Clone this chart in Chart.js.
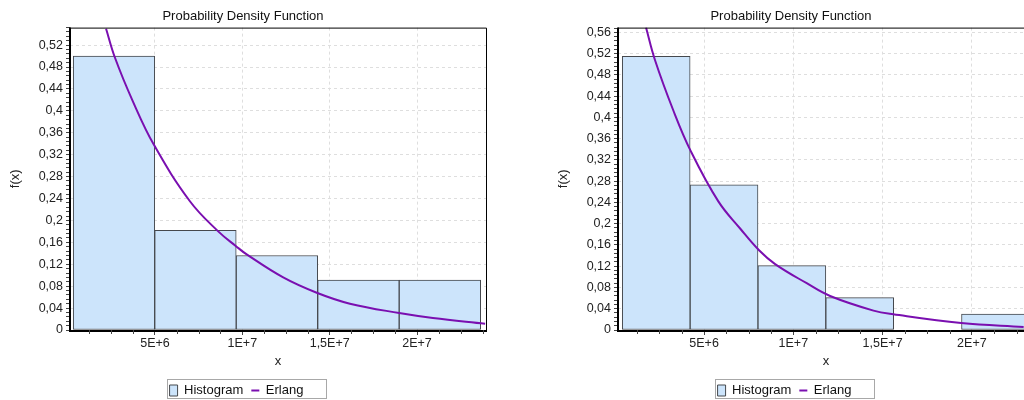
<!DOCTYPE html>
<html>
<head>
<meta charset="utf-8">
<script src="https://cdn.jsdelivr.net/npm/chart.js@4.4.1/dist/chart.umd.min.js"></script>
<style>
  html, body { margin: 0; padding: 0; background: #fff; overflow: hidden; }
  #wrap { position: relative; width: 1024px; height: 400px; overflow: hidden; }
  canvas { position: absolute; top: 0; }
</style>
</head>
<body>
<div id="wrap">
  <canvas id="chartLeft" width="490" height="400" style="left:0"></canvas>
  <canvas id="chartRight" width="490" height="400" style="left:548px"></canvas>
</div>
<script>
"use strict";

// 1: data
// tick labels (comma decimals, like the original)
let yTickLabels = ['0', '0,04', '0,08', '0,12', '0,16', '0,2', '0,24', '0,28',
                   '0,32', '0,36', '0,4', '0,44', '0,48', '0,52', '0,56'];
let xTickValues = [5e6, 1e7, 1.5e7, 2e7];
let xTickLabels = ['5E+6', '1E+7', '1,5E+7', '2E+7'];

// left chart: 5 bins
let leftBinEdges = [0.32e6, 4.985e6, 9.65e6, 14.315e6, 18.98e6, 23.645e6];
let leftHistogram = [0.5, 0.182, 0.136, 0.091, 0.091];
let leftErlangX = [2.2e6, 2.71e6, 3.74e6, 4.94e6, 7.0e6, 8.62e6, 9.64e6, 10.25e6,
                   12.34e6, 14.26e6, 16.16e6, 18.98e6, 20.91e6, 23.9e6];
let leftErlangY = [0.55, 0.497, 0.417, 0.338, 0.235, 0.180, 0.153, 0.138,
                   0.096, 0.068, 0.048, 0.031, 0.022, 0.0115];

// right chart: 6 bins
let rightBinEdges = [0.42e6, 4.22e6, 8.02e6, 11.82e6, 15.62e6, 19.42e6, 23.22e6];
let rightHistogram = [0.515, 0.273, 0.121, 0.061, 0, 0.030];
let rightErlangX = [1.75e6, 2.25e6, 3.28e6, 4.25e6, 5.8e6, 7.02e6, 8.08e6, 8.98e6,
                    10.75e6, 12.06e6, 14.49e6, 15.6e6, 19.4e6, 22.9e6];
let rightErlangY = [0.569, 0.508, 0.413, 0.337, 0.242, 0.191, 0.150, 0.124,
                    0.088, 0.064, 0.0365, 0.0295, 0.013, 0.0055];

const X_MINOR = 1.25e6;
const Y_MAJOR = 0.04, Y_MINOR = 0.008;

// 2: prepare data for chart
function prepareData(edges, hist, cx, cy) {
  let bars = hist.map((v, i) => ({ x: (edges[i] + edges[i + 1]) / 2, y: v }));
  let curve = cx.map((x, i) => ({ x: x, y: cy[i] }));
  return { bars: bars, curve: curve };
}

function isMajor(v, step) {
  let k = Math.round(v / step);
  return Math.abs(v - k * step) < step * 1e-6;
}

// frame round the plot: thick left/bottom axis, thin top/right
const framePlugin = {
  id: 'frame',
  afterDatasetsDraw(chart) {
    let a = chart.chartArea, ctx = chart.ctx;
    ctx.save();
    ctx.strokeStyle = '#000';
    ctx.lineWidth = 1;
    ctx.beginPath();
    ctx.moveTo(a.left, a.top + 0.5);
    ctx.lineTo(a.right + 0.5, a.top + 0.5);
    ctx.lineTo(a.right + 0.5, a.bottom);
    ctx.stroke();
    ctx.lineWidth = 2;
    ctx.beginPath();
    ctx.moveTo(a.left, a.top);
    ctx.lineTo(a.left, a.bottom + 1);
    ctx.lineTo(a.right + 1, a.bottom + 1);
    ctx.stroke();
    ctx.restore();
  },
  // minor ticks below the x axis, placed by the x scale
  afterDraw(chart) {
    let sx = chart.scales.x, a = chart.chartArea, ctx = chart.ctx;
    ctx.save();
    ctx.strokeStyle = '#444';
    ctx.lineWidth = 1;
    ctx.beginPath();
    for (let k = Math.ceil(sx.min / X_MINOR); k * X_MINOR <= sx.max; k++) {
      if (k % 4 === 0) continue;
      let px = Math.round(sx.getPixelForValue(k * X_MINOR)) + 0.5;
      ctx.moveTo(px, a.bottom);
      ctx.lineTo(px, a.bottom + 4);
    }
    ctx.stroke();
    ctx.restore();
  }
};

// nudge the legend and draw a box round it
const legendBoxPlugin = {
  id: 'legendBox',
  afterLayout(chart) {
    let lg = chart.legend;
    lg.right -= 13;
    lg.width -= 13;
    lg.top += 7;
    lg.bottom += 7;
  },
  afterDraw(chart) {
    let boxes = chart.legend.legendHitBoxes;
    if (!boxes || !boxes.length) return;
    let left = Math.min(...boxes.map(b => b.left));
    let right = Math.max(...boxes.map(b => b.left + b.width));
    let top = Math.min(...boxes.map(b => b.top));
    let h = Math.max(...boxes.map(b => b.height));
    let ctx = chart.ctx;
    ctx.save();
    ctx.strokeStyle = '#a8a8a8';
    ctx.lineWidth = 1;
    ctx.strokeRect(Math.round(left - 3) + 0.5, Math.round(top - 5) + 0.5,
                   Math.round(right - left + 25), Math.round(h + 6));
    ctx.restore();
  }
};

function gridColor(test) {
  return c => (c.tick && test(c.tick.value)) ? '#dedede' : 'transparent';
}

// 3: create and append the chart
function appendChart(canvasId, data, xMin, xMax, yMax) {
  let chartContainer = document.getElementById(canvasId);
  return new Chart(chartContainer, {
    data: {
      datasets: [{
        type: 'bar',
        label: 'Histogram',
        data: data.bars,
        backgroundColor: '#cce4fb',
        borderColor: '#45484d',
        borderWidth: 1,
        borderSkipped: false,
        barPercentage: 1,
        categoryPercentage: 1,
        order: 1
      }, {
        type: 'line',
        label: 'Erlang',
        data: data.curve,
        borderColor: '#7a0fb0',
        backgroundColor: '#7a0fb0',
        borderWidth: 2,
        pointRadius: 0,
        fill: false,
        tension: 0.4,
        order: 0
      }]
    },
    options: {
      responsive: false,
      animation: false,
      events: [],
      layout: { padding: { left: 0, right: 4, top: 0, bottom: 0 } },
      plugins: {
        title: {
          display: true,
          text: 'Probability Density Function',
          color: '#111',
          font: { family: 'Liberation Sans', size: 13, weight: 'normal' },
          padding: { top: 9, bottom: 3 }
        },
        legend: {
          position: 'bottom',
          labels: {
            usePointStyle: true,
            pointStyleWidth: 8,
            boxHeight: 11,
            padding: 8,
            color: '#111',
            font: { family: 'Liberation Sans', size: 13 },
            sort: (a, b) => a.datasetIndex - b.datasetIndex,
            generateLabels(chart) {
              let items = Chart.defaults.plugins.legend.labels.generateLabels(chart);
              items.forEach(it => {
                it.pointStyle = it.datasetIndex === 0 ? 'rect' : 'line';
                if (it.datasetIndex === 0) it.lineWidth = 1;
              });
              return items;
            }
          }
        },
        tooltip: { enabled: false }
      },
      scales: {
        x: {
          type: 'linear',
          min: xMin,
          max: xMax,
          offset: false,
          afterBuildTicks(scale) {
            scale.ticks = xTickValues.map(v => ({ value: v }));
          },
          afterFit(scale) { scale.height = 39; },
          border: { display: false, dash: [3, 3] },
          grid: {
            offset: false,
            color: gridColor(() => true),
            tickColor: '#444',
            tickLength: 5
          },
          ticks: {
            autoSkip: false,
            maxRotation: 0,
            padding: 1,
            color: '#222',
            font: { family: 'Liberation Sans', size: 12.5 },
            callback: (v, i) => xTickLabels[i]
          },
          title: {
            display: true,
            text: 'x',
            color: '#222',
            font: { family: 'Liberation Sans', size: 13 },
            padding: { top: 0, bottom: 0 }
          }
        },
        y: {
          type: 'linear',
          min: 0,
          max: yMax,
          afterBuildTicks(scale) {
            let t = [];
            for (let k = 0; k * Y_MINOR <= yMax + 1e-9; k++) t.push({ value: Math.round(k * Y_MINOR * 1000) / 1000 });
            scale.ticks = t;
          },
          afterFit(scale) { scale.width = 70; },
          border: { display: false, dash: [3, 3] },
          grid: {
            color: gridColor(v => v > 0 && isMajor(v, Y_MAJOR)),
            tickColor: '#444',
            tickLength: 4
          },
          ticks: {
            autoSkip: false,
            padding: 3,
            color: '#222',
            font: { family: 'Liberation Sans', size: 12.5 },
            callback(v) {
              if (!isMajor(v, Y_MAJOR)) return '';
              return yTickLabels[Math.round(v / Y_MAJOR)] || '';
            }
          },
          title: {
            display: true,
            text: 'f(x)',
            color: '#222',
            font: { family: 'Liberation Sans', size: 13 },
            padding: { top: 8, bottom: 0 }
          }
        }
      }
    },
    plugins: [framePlugin, legendBoxPlugin]
  });
}

appendChart('chartLeft', prepareData(leftBinEdges, leftHistogram, leftErlangX, leftErlangY),
            0.135e6, 23.95e6, 0.552);
appendChart('chartRight', prepareData(rightBinEdges, rightHistogram, rightErlangX, rightErlangY),
            0.18e6, 23.48e6, 0.569);
</script>
</body>
</html>
